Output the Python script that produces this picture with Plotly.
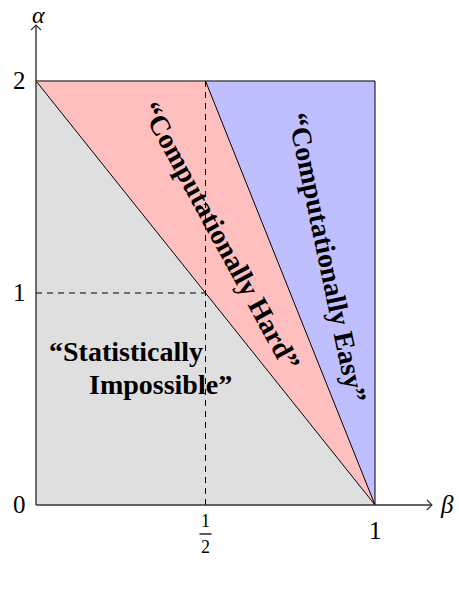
import plotly.graph_objects as go

# Regions (beta, alpha vertices)
impossible_beta = [0, 0, 1]
impossible_alpha = [0, 2, 0]
hard_beta = [0, 0.5, 1]
hard_alpha = [2, 2, 0]
easy_beta = [0.5, 1, 1]
easy_alpha = [2, 2, 0]

y_tick_vals = [0, 1, 2]
y_tick_text = ["0", "1", "2"]
x_tick_vals = [0.5, 1]

FONT = "Liberation Serif"
fig = go.Figure()

fig.add_trace(go.Scatter(x=impossible_beta, y=impossible_alpha, fill="toself",
                         fillcolor="#dfdfdf", mode="lines", line=dict(width=0),
                         hoverinfo="skip", showlegend=False))
fig.add_trace(go.Scatter(x=hard_beta, y=hard_alpha, fill="toself",
                         fillcolor="#ffbfbf", mode="lines", line=dict(width=0),
                         hoverinfo="skip", showlegend=False))
fig.add_trace(go.Scatter(x=easy_beta, y=easy_alpha, fill="toself",
                         fillcolor="#bfbfff", mode="lines", line=dict(width=0),
                         hoverinfo="skip", showlegend=False))

# dashed guides
fig.add_trace(go.Scatter(x=[0.5, 0.5], y=[0, 2], mode="lines",
                         line=dict(color="black", width=1, dash="6px,5px"),
                         hoverinfo="skip", showlegend=False))
fig.add_trace(go.Scatter(x=[0, 0.5], y=[1, 1], mode="lines",
                         line=dict(color="black", width=1, dash="6px,5px"),
                         hoverinfo="skip", showlegend=False))

# solid boundaries
fig.add_trace(go.Scatter(x=[impossible_beta[1], impossible_beta[2]],
                         y=[impossible_alpha[1], impossible_alpha[2]], mode="lines",
                         line=dict(color="black", width=1), hoverinfo="skip", showlegend=False))
fig.add_trace(go.Scatter(x=[easy_beta[0], easy_beta[2]], y=[easy_alpha[0], easy_alpha[2]],
                         mode="lines", line=dict(color="black", width=1),
                         hoverinfo="skip", showlegend=False))
fig.add_trace(go.Scatter(x=[hard_beta[0], easy_beta[1], easy_beta[2]],
                         y=[hard_alpha[0], easy_alpha[1], easy_alpha[2]], mode="lines",
                         line=dict(color="black", width=1), hoverinfo="skip", showlegend=False))

x_end = 1.168
y_end = 2.264
axis_col = "#333333"
# axes
fig.add_trace(go.Scatter(x=[0, x_end], y=[0, 0], mode="lines",
                         line=dict(color=axis_col, width=1.4), hoverinfo="skip", showlegend=False))
fig.add_trace(go.Scatter(x=[0, 0], y=[0, y_end], mode="lines",
                         line=dict(color=axis_col, width=1.4), hoverinfo="skip", showlegend=False))

shapes = [
    dict(type="path", xsizemode="pixel", ysizemode="pixel", xanchor=x_end, yanchor=0,
         xref="x", yref="y", path="M -5,5 L 0,0 L -5,-5",
         line=dict(color=axis_col, width=1.2)),
    dict(type="path", xsizemode="pixel", ysizemode="pixel", xanchor=0, yanchor=y_end,
         xref="x", yref="y", path="M -5,-5 L 0,0 L 5,-5",
         line=dict(color=axis_col, width=1.2)),
    # fraction bar for 1/2
    dict(type="path", xsizemode="pixel", ysizemode="pixel", xanchor=x_tick_vals[0], yanchor=0,
         xref="x", yref="y", path="M -6,-29 L 6,-29",
         line=dict(color="black", width=1.3)),
]

tick_font = dict(family=FONT, size=25, color="black")
frac_font = dict(family=FONT, size=18, color="black")
ann = []
for v, t in zip(y_tick_vals, y_tick_text):
    ann.append(dict(x=0, y=v, text=t, showarrow=False, xanchor="right", xshift=-8,
                    font=tick_font))
ann.append(dict(x=x_tick_vals[1], y=0, text="1", showarrow=False, yanchor="top", yshift=-10,
                font=tick_font))
ann.append(dict(x=x_tick_vals[0], y=0, text="1", showarrow=False, yanchor="middle", yshift=-16,
                font=frac_font))
ann.append(dict(x=x_tick_vals[0], y=0, text="2", showarrow=False, yanchor="middle", yshift=-42,
                font=frac_font))
ann.append(dict(x=x_end, y=0, text="<i>β</i>", showarrow=False, xanchor="left", xshift=6,
                font=tick_font))
ann.append(dict(x=0.006, xref="x", y=1, yref="paper", text="<i>α</i>", showarrow=False,
                yanchor="top", font=dict(family=FONT, size=24, color="black")))

lab_font = dict(family=FONT, size=28, color="black")
ann.append(dict(x=0.265, y=0.726, text="<b>“Statistically</b>", showarrow=False, font=lab_font))
ann.append(dict(x=0.366, y=0.566, text="<b>Impossible”</b>", showarrow=False, font=lab_font))
ann.append(dict(x=0.543, y=1.269, text="<b>“Computationally Hard”</b>", showarrow=False,
                textangle=61.4, font=lab_font))
ann.append(dict(x=0.861, y=1.165, text="<b>“Computationally Easy”</b>", showarrow=False,
                textangle=78.2, font=lab_font))

fig.update_layout(
    width=459, height=590, margin=dict(l=0, r=0, t=0, b=0),
    paper_bgcolor="white", plot_bgcolor="white",
    xaxis=dict(range=[-0.1062, 1.2478], visible=False, fixedrange=True),
    yaxis=dict(range=[-0.401, 2.382], visible=False, fixedrange=True),
    shapes=shapes, annotations=ann,
)

fig.write_html("out.html", config={"displayModeBar": False},
               post_script="document.body.style.margin='0px';")
